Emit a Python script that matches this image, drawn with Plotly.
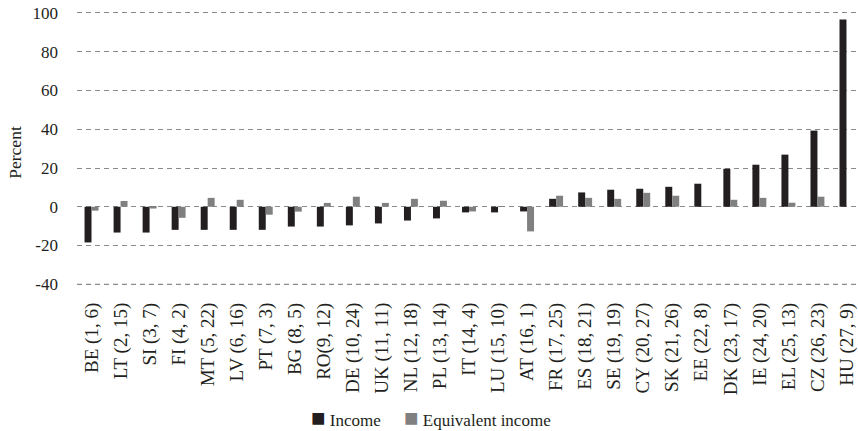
import plotly.graph_objects as go

categories = ["BE (1, 6)", "LT (2, 15)", "SI (3, 7)", "FI (4, 2)", "MT (5, 22)", "LV (6, 16)",
              "PT (7, 3)", "BG (8, 5)", "RO(9, 12)", "DE (10, 24)", "UK (11, 11)", "NL (12, 18)",
              "PL (13, 14)", "IT (14, 4)", "LU (15, 10)", "AT (16, 1)", "FR (17, 25)", "ES (18, 21)",
              "SE (19, 19)", "CY (20, 27)", "SK (21, 26)", "EE (22, 8)", "DK (23, 17)", "IE (24, 20)",
              "EL (25, 13)", "CZ (26, 23)", "HU (27, 9)"]

income = [-18.4, -13.3, -13.3, -11.9, -11.9, -11.9, -11.9, -10.2, -10.2, -9.6, -8.6, -7.1,
          -6.0, -2.9, -2.9, -2.4, 4.1, 7.4, 8.8, 9.3, 10.3, 11.9, 19.6, 21.7, 26.9, 39.3, 96.6]

equivalent_income = [-2.0, 3.0, -0.9, -5.7, 4.6, 3.6, -4.1, -2.5, 2.0, 5.2, 2.0, 4.1,
                     3.1, -2.4, 0.3, -12.7, 5.7, 4.6, 4.1, 7.2, 5.7, 0.3, 3.6, 4.6, 2.1, 5.2, 0.0]

y_ticks = [-40, -20, 0, 20, 40, 60, 80, 100]

series_names = ["Income", "Equivalent income"]
series_colors = ["#231f20", "#808080"]

FONT = "Liberation Serif"
TXT = "#231f20"
GRID = "#8a8a8a"

fig = go.Figure()
for name, vals, col in zip(series_names, [income, equivalent_income], series_colors):
    fig.add_trace(go.Bar(name=name, x=categories, y=vals, marker_color=col,
                         marker_line_width=0))

fig.update_layout(
    template="none",
    width=861, height=431,
    margin=dict(l=77, r=0, t=11, b=137, autoexpand=False),
    paper_bgcolor="white", plot_bgcolor="white",
    font=dict(family=FONT, size=17, color=TXT),
    barmode="group", bargap=0.52, bargroupgap=0,
    showlegend=False,
)

# bottom gridline (edge line sometimes dropped by the axis grid)
fig.add_hline(y=y_ticks[0], line=dict(color=GRID, width=1.2, dash="5px,4px"), layer="below")

# legend drawn as text entries (tight symbol/text spacing like the reference)
legend_x = [309, 402]
for name, col, lx in zip(series_names, series_colors, legend_x):
    fig.add_annotation(
        text=f"<span style='color:{col};font-size:24px'>■</span> {name}",
        xref="paper", yref="paper",
        x=(lx - 77) / 784, y=-(418 - 294) / 283,
        xanchor="left", yanchor="middle", showarrow=False,
        font=dict(family=FONT, size=17, color=TXT),
    )

fig.update_xaxes(
    type="category", showgrid=False, showline=False, zeroline=False, automargin=False,
    tickangle=-90, ticks="", ticklabelstandoff=4,
    tickfont=dict(family=FONT, size=19, color=TXT),
)
fig.update_yaxes(
    range=[-45, 101], tickvals=y_ticks, ticktext=[str(v) for v in y_ticks],
    showgrid=True, gridcolor=GRID, gridwidth=1.2, griddash="5px,4px",
    zeroline=False, showline=False, ticks="", ticklabelstandoff=18, automargin=False,
    tickfont=dict(family=FONT, size=17, color=TXT),
    title=dict(text="Percent", standoff=6, font=dict(family=FONT, size=17.5, color=TXT)),
)

fig.write_html("out.html", config={"displayModeBar": False},
               post_script="document.body.style.margin='0';document.body.style.overflow='hidden';")
